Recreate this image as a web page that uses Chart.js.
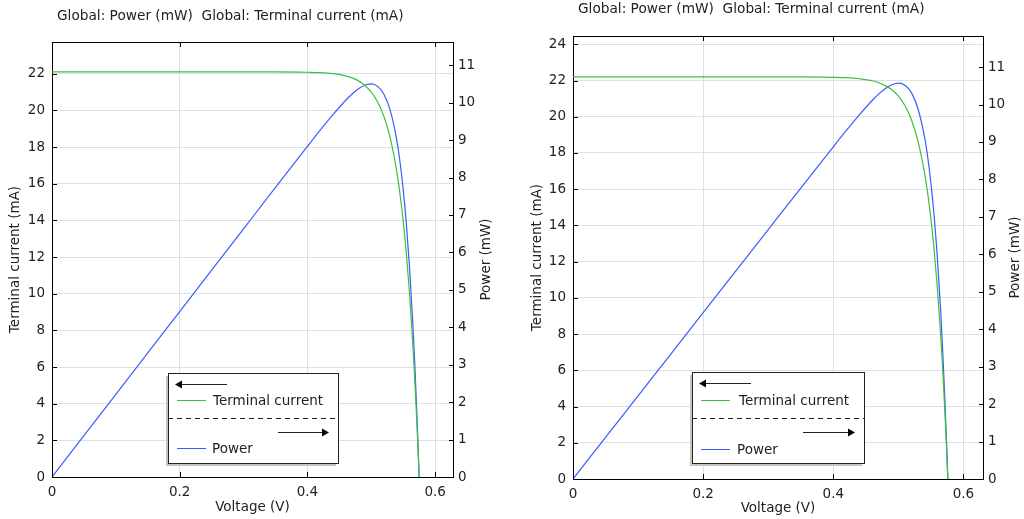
<!DOCTYPE html>
<html><head><meta charset="utf-8">
<script src="https://cdn.jsdelivr.net/npm/chart.js@4"></script>
<style>
body{margin:0;width:1024px;height:519px;background:#fff;overflow:hidden;position:relative;}
.wrap{position:absolute;top:0;width:512px;height:519px;}
.ttl{position:absolute;font:13.7px 'DejaVu Sans';color:#222;white-space:pre;line-height:16px;}
</style></head><body>
<div class="wrap" style="left:0"><canvas id="c1" width="512" height="519"></canvas></div>
<div class="wrap" style="left:512px"><canvas id="c2" width="512" height="519"></canvas></div>
<div class="ttl" style="left:57px;top:7px">Global: Power (mW)  Global: Terminal current (mA)</div>
<div class="ttl" style="left:578px;top:0px">Global: Power (mW)  Global: Terminal current (mA)</div>
<script>
// ---- data ----
const voltageLeft  = [0,0.05,0.1,0.15,0.2,0.25,0.3,0.35,0.4,0.42,0.44,0.46,0.47,0.48,0.49,0.5,0.51,0.52,0.53,0.54,0.545,0.55,0.555,0.56,0.565,0.568,0.571,0.573,0.575];
const currentLeft  = [22.1,22.1,22.1,22.1,22.1,22.1,22.1,22.1,22.08,22.06,22.0,21.88,21.77,21.61,21.36,21.0,20.46,19.65,18.45,16.65,15.44,13.97,12.17,9.97,7.29,5.40,3.27,1.70,0];
const powerLeft    = [0,1.105,2.21,3.315,4.42,5.525,6.63,7.735,8.832,9.265,9.68,10.065,10.232,10.373,10.466,10.50,10.435,10.218,9.779,8.991,8.415,7.684,6.754,5.583,4.119,3.067,1.867,0.974,0];

const voltageRight = [0,0.05,0.1,0.15,0.2,0.25,0.3,0.35,0.4,0.42,0.44,0.46,0.47,0.48,0.49,0.5,0.51,0.52,0.53,0.54,0.545,0.55,0.555,0.56,0.565,0.568,0.571,0.574,0.576];
const currentRight = [22.2,22.2,22.2,22.2,22.2,22.2,22.2,22.2,22.18,22.16,22.10,21.99,21.88,21.72,21.49,21.14,20.62,19.84,18.67,16.94,15.78,14.35,12.62,10.49,7.90,6.08,4.02,1.71,0];
const powerRight   = [0,1.11,2.22,3.33,4.44,5.55,6.66,7.77,8.872,9.307,9.724,10.115,10.284,10.426,10.530,10.57,10.516,10.317,9.895,9.148,8.600,7.893,7.004,5.874,4.464,3.453,2.295,0.982,0];

const voltageTicks = [0,0.2,0.4,0.6];
const currentTicksLeft  = [0,2,4,6,8,10,12,14,16,18,20,22];
const currentTicksRight = [0,2,4,6,8,10,12,14,16,18,20,22,24];
const powerTicks = [0,1,2,3,4,5,6,7,8,9,10,11];

const seriesNames = ['Terminal current','Power'];
const axisTitles = {x:'Voltage (V)', y:'Terminal current (mA)', y1:'Power (mW)'};

const GREEN = '#3fbf3f', BLUE = '#3a5cff', FONT = "'DejaVu Sans'", FS = 13.5;
Chart.defaults.font.family = FONT;
Chart.defaults.font.size = FS;
Chart.defaults.color = '#222';

function pts(xs, ys){ return xs.map((x,i)=>({x:x, y:ys[i]})); }
function fixTicks(list){ return s => { s.ticks = list.map(v=>({value:v})); }; }

const decor = {
  id:'decor',
  afterDraw(chart, args, o){
    const {ctx, chartArea:a, scales} = chart;
    ctx.save();
    ctx.strokeStyle = '#000'; ctx.lineWidth = 1;
    ctx.beginPath();
    ctx.moveTo(a.left, a.top+0.5); ctx.lineTo(a.right+1, a.top+0.5);
    scales.x.ticks.forEach(t=>{const px=Math.round(scales.x.getPixelForValue(t.value))+0.5;
      ctx.moveTo(px,a.bottom); ctx.lineTo(px,a.bottom-5); ctx.moveTo(px,a.top); ctx.lineTo(px,a.top+5);});
    scales.y.ticks.forEach(t=>{const py=Math.round(scales.y.getPixelForValue(t.value))+0.5;
      ctx.moveTo(a.left,py); ctx.lineTo(a.left+5,py);});
    scales.y1.ticks.forEach(t=>{const py=Math.round(scales.y1.getPixelForValue(t.value))+0.5;
      ctx.moveTo(a.right+1,py); ctx.lineTo(a.right-4,py);});
    ctx.stroke();
    // right axis title (reads bottom to top)
    ctx.fillStyle = '#222'; ctx.font = FS+"px "+FONT;
    ctx.textAlign = 'center'; ctx.textBaseline = 'middle';
    ctx.translate(a.right + o.rtx, (a.top+a.bottom)/2);
    ctx.rotate(-Math.PI/2);
    ctx.fillText(axisTitles.y1, 0, 0);
    ctx.restore();
    // legend
    const L = o.legend; const bx=L.x, by=L.y;
    ctx.save();
    ctx.fillStyle = '#c4c4c4'; ctx.fillRect(bx-2, by+3, L.w, L.h);
    ctx.fillStyle = '#fff'; ctx.fillRect(bx, by, L.w, L.h);
    ctx.strokeStyle = '#222'; ctx.lineWidth = 1;
    ctx.strokeRect(bx+0.5, by+0.5, L.w, L.h);
    // left arrow
    ctx.beginPath(); ctx.moveTo(bx+12, by+11.5); ctx.lineTo(bx+59, by+11.5); ctx.stroke();
    ctx.fillStyle = '#000';
    ctx.beginPath(); ctx.moveTo(bx+7, by+11.5); ctx.lineTo(bx+14, by+7.5); ctx.lineTo(bx+14, by+15.5); ctx.closePath(); ctx.fill();
    // green sample + text
    ctx.strokeStyle = GREEN; ctx.beginPath(); ctx.moveTo(bx+9, by+L.g+0.5); ctx.lineTo(bx+38, by+L.g+0.5); ctx.stroke();
    ctx.fillStyle = '#222'; ctx.font = FS+"px "+FONT; ctx.textAlign='left'; ctx.textBaseline='middle';
    ctx.fillText(seriesNames[0], bx+L.t1, by+L.g+1);
    // dashed separator
    ctx.strokeStyle = '#222'; ctx.setLineDash([5,4]);
    ctx.beginPath(); ctx.moveTo(bx, by+L.d+0.5); ctx.lineTo(bx+L.w, by+L.d+0.5); ctx.stroke();
    ctx.setLineDash([]);
    // right arrow
    ctx.beginPath(); ctx.moveTo(bx+L.ar, by+L.ay+0.5); ctx.lineTo(bx+L.w-15, by+L.ay+0.5); ctx.stroke();
    ctx.fillStyle = '#000';
    ctx.beginPath(); ctx.moveTo(bx+L.w-9, by+L.ay+0.5); ctx.lineTo(bx+L.w-16, by+L.ay-3.5); ctx.lineTo(bx+L.w-16, by+L.ay+4.5); ctx.closePath(); ctx.fill();
    // blue sample + text
    ctx.strokeStyle = BLUE; ctx.beginPath(); ctx.moveTo(bx+9, by+L.b+0.5); ctx.lineTo(bx+38, by+L.b+0.5); ctx.stroke();
    ctx.fillStyle = '#222'; ctx.fillText(seriesNames[1], bx+L.t2, by+L.b+1);
    ctx.restore();
  }
};

function makeChart(id, cfg){
  return new Chart(document.getElementById(id), {
    type:'line',
    data:{datasets:[
      {label:seriesNames[0], data:pts(cfg.v, cfg.i), yAxisID:'y', borderColor:GREEN, borderWidth:1.2, pointRadius:0, cubicInterpolationMode:'monotone', fill:false},
      {label:seriesNames[1], data:pts(cfg.v, cfg.p), yAxisID:'y1', borderColor:BLUE, borderWidth:1.2, pointRadius:0, cubicInterpolationMode:'monotone', fill:false}
    ]},
    options:{
      responsive:false, animation:false, devicePixelRatio:1,
      layout:{padding:{top:cfg.top,left:0,right:0,bottom:0}},
      plugins:{legend:{display:false}, tooltip:{enabled:false}, title:{display:false},
        decor:{rtx:cfg.rtx, legend:cfg.legend}},
      scales:{
        x:{type:'linear', position:'bottom', min:0, max:cfg.xmax,
          afterBuildTicks:fixTicks(voltageTicks), afterFit:s=>{s.height=cfg.xh;},
          grid:{color:'#e0e0e0', drawTicks:false}, border:{color:'#000'},
          ticks:{padding:cfg.xpad, color:'#222', callback:v=>String(v)},
          title:{display:true, text:axisTitles.x, color:'#222', padding:{top:0,bottom:cfg.xtp}}},
        y:{type:'linear', position:'left', min:0, max:cfg.ymax,
          afterBuildTicks:fixTicks(cfg.iTicks), afterFit:s=>{s.width=cfg.yw;},
          grid:{color:'#e0e0e0', drawTicks:false}, border:{color:'#000'},
          ticks:{padding:7, color:'#222'},
          title:{display:true, text:axisTitles.y, color:'#222', padding:{top:cfg.ytp,bottom:0}}},
        y1:{type:'linear', position:'right', min:0, max:cfg.pmax,
          afterBuildTicks:fixTicks(powerTicks), afterFit:s=>{s.width=cfg.y1w;},
          grid:{display:false, drawTicks:false}, border:{color:'#000'},
          ticks:{padding:5, color:'#222'}}
      }
    },
    plugins:[decor]
  });
}

makeChart('c1', {v:voltageLeft, i:currentLeft, p:powerLeft, xmax:0.628, ymax:23.73, pmax:11.62,
  iTicks:currentTicksLeft, top:42, xh:42, yw:52, y1w:59, xpad:7, xtp:3, ytp:7, rtx:33,
  legend:{x:168, y:373, w:170, h:90, g:27, t1:45, d:45, ar:110, ay:59, b:75, t2:44}});
makeChart('c2', {v:voltageRight, i:currentRight, p:powerRight, xmax:0.630, ymax:24.46, pmax:11.83,
  iTicks:currentTicksRight, top:36, xh:40, yw:61, y1w:41, xpad:7, xtp:2, ytp:17, rtx:32,
  legend:{x:180, y:372, w:172, h:91, g:28, t1:47, d:46, ar:111, ay:60, b:77, t2:45}});
</script>
</body></html>
